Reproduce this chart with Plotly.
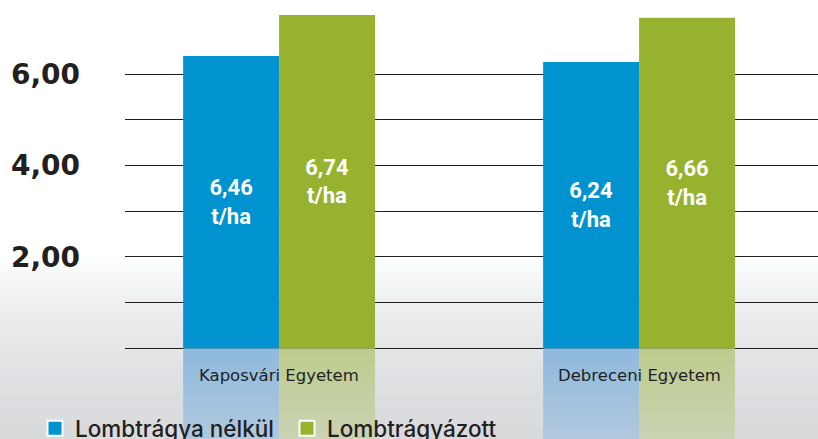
import plotly.graph_objects as go

# ---- data ----
categories = ["Kaposvári Egyetem", "Debreceni Egyetem"]
series_names = ["Lombtrágya nélkül", "Lombtrágyázott"]
bar_heights_without = [6.40, 6.27]      # heights as drawn in the picture
bar_heights_with = [7.30, 7.24]
labels_without = ["6,46", "6,24"]        # printed values
labels_with = ["6,74", "6,66"]
label_unit = "t/ha"
under_band = [-2.0, -2.0]                # light extension below the baseline
tick_values = [0, 1, 2, 3, 4, 5, 6]
tick_labels = ["", "", "2,00", "", "4,00", "", "6,00"]

BLUE = "#0093d0"
GREEN = "#97b22e"
LIGHT_BLUE = "rgb(143,186,222)"
LIGHT_GREEN = "rgb(190,204,143)"
INK = "#231f20"

W, H = 818, 439
fig = go.Figure()

# light extensions under the baseline
fig.add_trace(go.Bar(x=categories, y=under_band, base=0, marker_color=LIGHT_BLUE,
                     marker_line_width=0, offsetgroup="a", showlegend=False, hoverinfo="skip"))
fig.add_trace(go.Bar(x=categories, y=under_band, base=0, marker_color=LIGHT_GREEN,
                     marker_line_width=0, offsetgroup="b", showlegend=False, hoverinfo="skip"))

label_font = dict(family="Roboto, sans-serif", size=22, color="white", weight="bold")
fig.add_trace(go.Bar(x=categories, y=bar_heights_without, marker_color=BLUE, marker_line_width=0,
                     offsetgroup="a", showlegend=False,
                     text=[f"{t}<br>{label_unit}" for t in labels_without],
                     textposition="inside", insidetextanchor="middle", textangle=0,
                     constraintext="none", textfont=label_font))
fig.add_trace(go.Bar(x=categories, y=bar_heights_with, marker_color=GREEN, marker_line_width=0,
                     offsetgroup="b", showlegend=False,
                     text=[f"{t}<br>{label_unit}" for t in labels_with],
                     textposition="inside", insidetextanchor="middle", textangle=0,
                     constraintext="none", textfont=label_font))

# legend entries
for name, col in zip(series_names, [BLUE, GREEN]):
    fig.add_trace(go.Scatter(x=[None], y=[None], mode="markers", name=name,
                             marker=dict(symbol="square", size=15, color=col,
                                         line=dict(color="white", width=2))))

# background gradient (white -> light grey toward bottom)
stops = [(0, 255), (250, 255), (280, 245), (302, 238), (348, 229), (395, 222), (439, 216)]
def grey_at(py):
    for (p0, g0), (p1, g1) in zip(stops[:-1], stops[1:]):
        if p0 <= py <= p1:
            return g0 + (g1 - g0) * (py - p0) / (p1 - p0)
    return stops[-1][1]

shapes = []
step = 3
py = 246
while py < H:
    g = round(grey_at(py + step / 2))
    shapes.append(dict(type="rect", xref="paper", yref="paper", layer="below",
                       x0=-0.25, x1=1.01, y0=1 - (py + step) / H, y1=1 - py / H,
                       fillcolor=f"rgb({g},{g+1},{g+3})", line_width=0))
    py += step
# fade over lower region
py = 350
while py < H:
    a = 0.45 * (py + step / 2 - 350) / (H - 350)
    shapes.append(dict(type="rect", xref="paper", yref="paper", layer="above",
                       x0=-0.25, x1=1.01, y0=1 - (py + step) / H, y1=1 - py / H,
                       fillcolor=f"rgba(217,219,222,{a:.3f})", line_width=0))
    py += step

annotations = [dict(x=c, y=-0.585, xref="x", yref="y", text=c, showarrow=False,
                    font=dict(family="DejaVu Sans", size=16.5, color=INK))
               for c in categories]

x_left = 125 / W
fig.update_layout(
    width=W, height=H,
    margin=dict(l=0, r=0, t=0, b=0, pad=0, autoexpand=False),
    paper_bgcolor="white", plot_bgcolor="rgba(0,0,0,0)",
    barmode="group", bargap=0.467, bargroupgap=0,
    shapes=shapes, annotations=annotations,
    xaxis=dict(domain=[x_left, 1], range=[-0.428, 1.497], showticklabels=False,
               showgrid=False, zeroline=False, showline=False, ticks=""),
    yaxis=dict(range=[-1.986, 7.627], tickvals=tick_values, ticktext=tick_labels,
               showgrid=True, gridcolor=INK, gridwidth=1.3, zeroline=False, showline=False,
               ticks="", ticklabelstandoff=44,
               tickfont=dict(family="DejaVu Sans", size=28, color=INK, weight="bold")),
    legend=dict(orientation="h", xref="container", yref="container",
                x=35 / W, y=1 - 407 / H, xanchor="left", yanchor="top",
                entrywidth=207, entrywidthmode="pixels",
                bgcolor="rgba(0,0,0,0)", borderwidth=0,
                font=dict(family="Inter", size=22.5, color=INK, weight=500)),
    showlegend=True,
)

fig.write_html("out.html", config={"displayModeBar": False},
               post_script="document.body.style.margin='0px';")
